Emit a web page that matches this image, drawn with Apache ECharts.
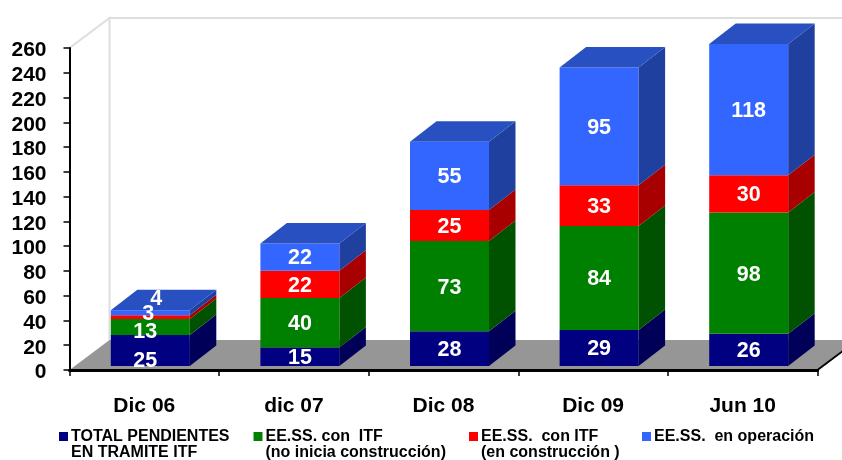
<!DOCTYPE html>
<html>
<head>
<meta charset="utf-8">
<style>html,body{margin:0;padding:0;background:#fff}#c{width:842px;height:460px}</style>
<script src="https://cdn.jsdelivr.net/npm/echarts@6/dist/echarts.min.js"></script>
</head>
<body>
<div id="c"></div>
<script>
const categories = ['Dic 06', 'dic 07', 'Dic 08', 'Dic 09', 'Jun 10'];
const pendientes = [25, 15, 28, 29, 26];
const sinConstruccion = [13, 40, 73, 84, 98];
const enConstruccion = [3, 22, 25, 33, 30];
const enOperacion = [4, 22, 55, 95, 118];
const yTicksMax = 260;
const legendFirstLines = ['TOTAL PENDIENTES', 'EE.SS. con  ITF', 'EE.SS.  con ITF', 'EE.SS.  en operación'];
const legendSecondLines = ['EN TRAMITE ITF', '(no inicia construcción)', '(en construcción )', ''];

const stacks = [pendientes, sinConstruccion, enConstruccion, enOperacion];
const FONT = '"Liberation Sans", Arial, sans-serif';
const faces = [
  { front: '#000080', side: '#000058', top: '#000068' },
  { front: '#008000', side: '#005200', top: '#006400' },
  { front: '#FF0000', side: '#A80000', top: '#C00000' },
  { front: '#3366FF', side: '#2040A0', top: '#2850C0' }
];
const FLOOR = { dx: 40, dy: -30 };
const BAR = { ox: 6, oy: -4, dx: 26.5, dy: -20.5, widthRatio: 0.528 };
const legendX = [59, 253.5, 469, 642];
// Dic 06 labels sit away from their thin segments in the reference
const labelNudge = [
  [[-5, 11], [-5, 5], [-2, -3.5], [6, -13.5]],
  [], [], [], []
];

function poly(points, fill, z2) {
  return { type: 'polygon', z2: z2 || 0, shape: { points: points }, style: { fill: fill }, silent: true };
}

function renderBackdrop(params) {
  const g = params.coordSys;
  const L = g.x, R = g.x + g.width, B = g.y + g.height, T = g.y;
  const fx = FLOOR.dx, fy = FLOOR.dy;
  const wall = { stroke: '#DEDEDE', lineWidth: 2, fill: null };
  return {
    type: 'group',
    children: [
      { type: 'polyline', shape: { points: [[L, T], [L + fx, T + fy], [L + fx, B + fy]] }, style: wall },
      { type: 'line', shape: { x1: L + fx, y1: T + fy, x2: 842, y2: T + fy }, style: { stroke: '#DEDEDE', lineWidth: 2 } },
      poly([[L, B], [R, B], [R + fx, B + fy], [L + fx, B + fy]], '#969696'),
      { type: 'line', shape: { x1: R, y1: B, x2: R + fx, y2: B + fy }, style: { stroke: '#000', lineWidth: 2 } }
    ]
  };
}

function segment(api, i, s, v) {
  const c = stacks.slice(0, s).reduce((a, arr) => a + arr[i], 0);
  const lo = Math.min(c, yTicksMax);
  const hi = Math.min(c + v, yTicksMax);
  const w = api.size([1, 0])[0] * BAR.widthRatio;
  const pLo = api.coord([i, lo]);
  const pHi = api.coord([i, hi]);
  const x0 = pLo[0] + BAR.ox - w / 2;
  return { x0: x0, x1: x0 + w, yB: pLo[1] + BAR.oy, yT: pHi[1] + BAR.oy };
}

function makeRender(s) {
  return function (params, api) {
    const i = api.value(0);
    const r = segment(api, i, s, api.value(1));
    const f = faces[s];
    const dx = BAR.dx, dy = BAR.dy;
    const children = [
      poly([[r.x0, r.yB], [r.x1, r.yB], [r.x1, r.yT], [r.x0, r.yT]], f.front),
      poly([[r.x1, r.yB], [r.x1 + dx, r.yB + dy], [r.x1 + dx, r.yT + dy], [r.x1, r.yT]], f.side)
    ];
    if (s === stacks.length - 1) {
      children.push(poly([[r.x0, r.yT], [r.x1, r.yT], [r.x1 + dx, r.yT + dy], [r.x0 + dx, r.yT + dy]], f.top));
    }
    return { type: 'group', children: children };
  };
}

function renderLabel(params, api) {
  const i = api.value(0), s = api.value(2), v = api.value(1);
  const r = segment(api, i, s, v);
  const n = labelNudge[i][s] || [0, 1.5];
  return {
    type: 'text', silent: true,
    style: {
      text: String(v),
      x: (r.x0 + r.x1) / 2 + n[0], y: (r.yB + r.yT) / 2 + n[1],
      align: 'center', verticalAlign: 'middle',
      fill: '#fff', font: 'bold 21.5px ' + FONT
    }
  };
}

const series = [{
  type: 'custom', name: '_backdrop', z: 1, silent: true,
  data: [[0, 0]], renderItem: renderBackdrop, tooltip: { show: false }
}];
const labelRows = [];
stacks.forEach((arr, s) => {
  series.push({
    type: 'custom', name: legendFirstLines[s], z: 5 + s, clip: false,
    itemStyle: { color: faces[s].front },
    encode: { x: 0, y: 1 },
    data: arr.map((v, i) => [i, v]),
    renderItem: makeRender(s)
  });
  arr.forEach((v, i) => labelRows.push([i, v, s]));
});
series.push({
  type: 'custom', name: '_labels', z: 20, clip: false, silent: true,
  encode: { x: 0, y: 1 }, data: labelRows, renderItem: renderLabel
});

const legends = legendFirstLines.map((name, s) => ({
  show: true, data: [name], left: legendX[s], top: 428.5, selectedMode: false,
  itemWidth: 9, itemHeight: 9, padding: 0, itemGap: 0,
  icon: 'rect',
  textStyle: { color: '#000', fontFamily: FONT, fontWeight: 'bold', fontSize: 16, padding: [0, 0, 0, -2] }
}));

const graphics = legendSecondLines.filter(t => t).map((t, k) => ({
  type: 'text', left: legendX[k] + 12, top: 445, silent: true,
  style: { text: t, fill: '#000', font: 'bold 16px ' + FONT }
}));

const chart = echarts.init(document.getElementById('c'), null, { renderer: 'canvas' });
chart.setOption({
  animation: false,
  backgroundColor: '#fff',
  grid: { left: 69.5, top: 48, width: 748, height: 322, containLabel: false },
  legend: legends,
  graphic: graphics,
  xAxis: {
    type: 'category', data: categories, z: 3,
    axisLine: { show: true, lineStyle: { color: '#000', width: 3 } },
    axisTick: { show: true, length: 6, lineStyle: { color: '#000', width: 1.5 } },
    axisLabel: { color: '#000', fontFamily: FONT, fontWeight: 'bold', fontSize: 21, margin: 26 },
    splitLine: { show: false }
  },
  yAxis: {
    type: 'value', min: 0, max: yTicksMax, interval: 20, z: 3,
    axisLine: { show: true, lineStyle: { color: '#000', width: 2 } },
    axisTick: { show: true, length: 6, lineStyle: { color: '#000', width: 1.5 } },
    axisLabel: {
      color: '#000', margin: 23,
      formatter: '{v|{value}}',
      rich: { v: { fontFamily: FONT, fontWeight: 'bold', fontSize: 21, padding: [5, 0, 0, 0] } }
    },
    splitLine: { show: false }
  },
  series: series
});
</script>
</body>
</html>
